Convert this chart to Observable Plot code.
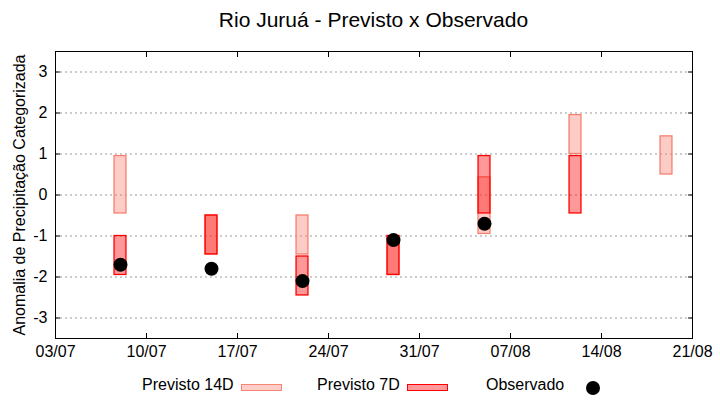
<!DOCTYPE html>
<html>
<head>
<meta charset="utf-8">
<script src="https://cdn.jsdelivr.net/npm/d3@7"></script>
<script src="https://cdn.jsdelivr.net/npm/@observablehq/plot@0.6"></script>
<style>
  body { margin: 0; background: #fff; font-family: "Liberation Sans", Arial, sans-serif; color: #000; }
  #wrap { position: relative; width: 720px; height: 400px; overflow: hidden; }
  #title { position: absolute; left: 55px; width: 637px; top: 0; height: 40px; line-height: 40px; text-align: center; font-size: 21px; }
  #chart { position: absolute; left: 0; top: 40px; }
  .lt { position: absolute; font-size: 16px; top: 375px; line-height: 20px; white-space: nowrap; }
  .sw { position: absolute; top: 384px; width: 39px; height: 5px; }
  .dotl { position: absolute; width: 14px; height: 14px; border-radius: 50%; background: #000; left: 586px; top: 381px; }
</style>
</head>
<body>
<div id="wrap">
  <div id="title">Rio Juruá - Previsto x Observado</div>
  <div id="chart"></div>
  <div class="lt" style="left:142px">Previsto 14D</div>
  <div class="sw" style="left:241px;background:#fdcdc8;border:1px solid #f58575"></div>
  <div class="lt" style="left:317px">Previsto 7D</div>
  <div class="sw" style="left:407px;background:#ff9999;border:1px solid #ff0000"></div>
  <div class="lt" style="left:486px">Observado</div>
  <div class="dotl"></div>
</div>
<script>
// Data
const dates      = ["2025-07-08", "2025-07-15", "2025-07-22", "2025-07-29", "2025-08-05", "2025-08-12", "2025-08-19"];
const prev14Low  = [-0.45, -1.45, -1.45, -1.95, -0.95, 1.0, 0.5];
const prev14High = [0.95, -0.5, -0.5, -1.0, 0.43, 1.95, 1.43];
const prev7Low   = [-1.95, -1.45, -2.45, -1.95, -0.45, -0.45, null];
const prev7High  = [-1.0, -0.5, -1.5, -1.0, 0.95, 0.95, null];
const observed   = [-1.7, -1.8, -2.1, -1.1, -0.7, null, null];
const xTickLabels = ["2025-07-03", "2025-07-10", "2025-07-17", "2025-07-24", "2025-07-31", "2025-08-07", "2025-08-14", "2025-08-21"];
const yTicks = [-3, -2, -1, 0, 1, 2, 3];

const parse = d3.utcParse("%Y-%m-%d");
const rows = dates.map((d, i) => ({
  date: parse(d), lo14: prev14Low[i], hi14: prev14High[i],
  lo7: prev7Low[i], hi7: prev7High[i], obs: observed[i]
}));
const xTicks = xTickLabels.map(parse);
const left = d => d3.utcHour.offset(d.date, -11);
const right = d => d3.utcHour.offset(d.date, 11);

const plot = Plot.plot({
  width: 720,
  height: 325,
  marginTop: 11,
  marginBottom: 27,
  marginLeft: 55,
  marginRight: 28,
  style: { fontSize: "16px", fontFamily: "'Liberation Sans', Arial, sans-serif", color: "#000", background: "#fff" },
  x: { type: "utc", domain: [xTicks[0], xTicks[xTicks.length - 1]] },
  y: { domain: [-3.5, 3.5] },
  marks: [
    Plot.gridY(yTicks, { stroke: "#999", strokeOpacity: 1, strokeDasharray: "2,3" }),
    Plot.rect(rows.filter(d => d.lo14 != null), {
      x1: left, x2: right, y1: "lo14", y2: "hi14",
      fill: "#fa8072", fillOpacity: 0.4, stroke: "#f58070", strokeWidth: 1.3
    }),
    Plot.rect(rows.filter(d => d.lo7 != null), {
      x1: left, x2: right, y1: "lo7", y2: "hi7",
      fill: "#ff0000", fillOpacity: 0.4, stroke: "#ff0000", strokeWidth: 1.3
    }),
    Plot.dot(rows.filter(d => d.obs != null), { x: "date", y: "obs", r: 7, fill: "#000", stroke: "none" }),
    Plot.axisX({ ticks: xTicks, tickFormat: d3.utcFormat("%d/%m"), tickSize: -5, tickPadding: 12, label: null }),
    Plot.axisX({ anchor: "top", ticks: xTicks, tickFormat: () => "", tickSize: -5, label: null }),
    Plot.axisY({ ticks: yTicks, tickSize: -5, tickPadding: 13, tickFormat: d => String(d),
      label: "Anomalia de Precipitação Categorizada", labelAnchor: "center", labelArrow: "none", labelOffset: 42 }),
    Plot.axisY({ anchor: "right", ticks: yTicks, tickFormat: () => "", tickSize: -5, label: null }),
    Plot.frame({ stroke: "#000", strokeWidth: 1 })
  ]
});
document.getElementById("chart").appendChild(plot);
</script>
</body>
</html>
